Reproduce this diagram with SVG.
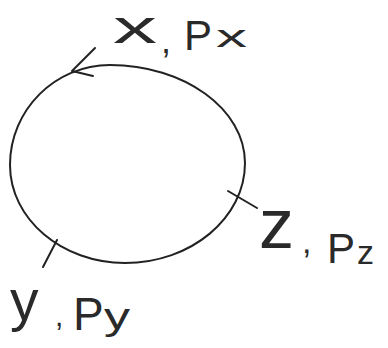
<svg xmlns="http://www.w3.org/2000/svg" width="388" height="348" viewBox="0 0 388 348">
<style>
.ln{fill:none;stroke:#222;stroke-width:2;stroke-linecap:round;stroke-linejoin:round}
.lbl{font-family:"Liberation Sans",Arial,sans-serif;fill:#2a2a2a}
</style>
<rect width="388" height="348" fill="#fff"/>
<g id="connectors">
<path id="loop" class="ln" d="M110,65 C184,65 245,109 245,163 C245,218 191,263 125,263 C62,263 10,219 10,165 C10,110 55,65 110,65 Z"/>
<polyline id="arrowhead" class="ln" points="95,48 72,71 93,76"/>
<line id="tick-z" class="ln" x1="228" y1="191" x2="257" y2="208"/>
<line id="tick-y" class="ln" x1="57" y1="240" x2="43" y2="267"/>
</g>
<g id="label-x">
<text class="lbl"><tspan x="113" y="43" font-size="46" textLength="44" lengthAdjust="spacingAndGlyphs">x</tspan><tspan x="161" y="53" font-size="36">, </tspan><tspan x="184" y="50" font-size="42">P</tspan><tspan x="216" y="47" font-size="32" textLength="31" lengthAdjust="spacingAndGlyphs">x</tspan></text>
</g>
<g id="label-z">
<text class="lbl"><tspan x="259" y="248" font-size="70">z</tspan><tspan x="302" y="253" font-size="34">, </tspan><tspan x="327" y="263" font-size="42">P</tspan><tspan x="357" y="264" font-size="34">z</tspan></text>
</g>
<g id="label-y">
<text class="lbl"><tspan x="10" y="320" font-size="57">y</tspan><tspan x="55" y="326" font-size="30">, </tspan><tspan x="73" y="330" font-size="46">P</tspan><tspan x="104" y="329" font-size="36" textLength="26" lengthAdjust="spacingAndGlyphs">y</tspan></text>
</g>
</svg>
